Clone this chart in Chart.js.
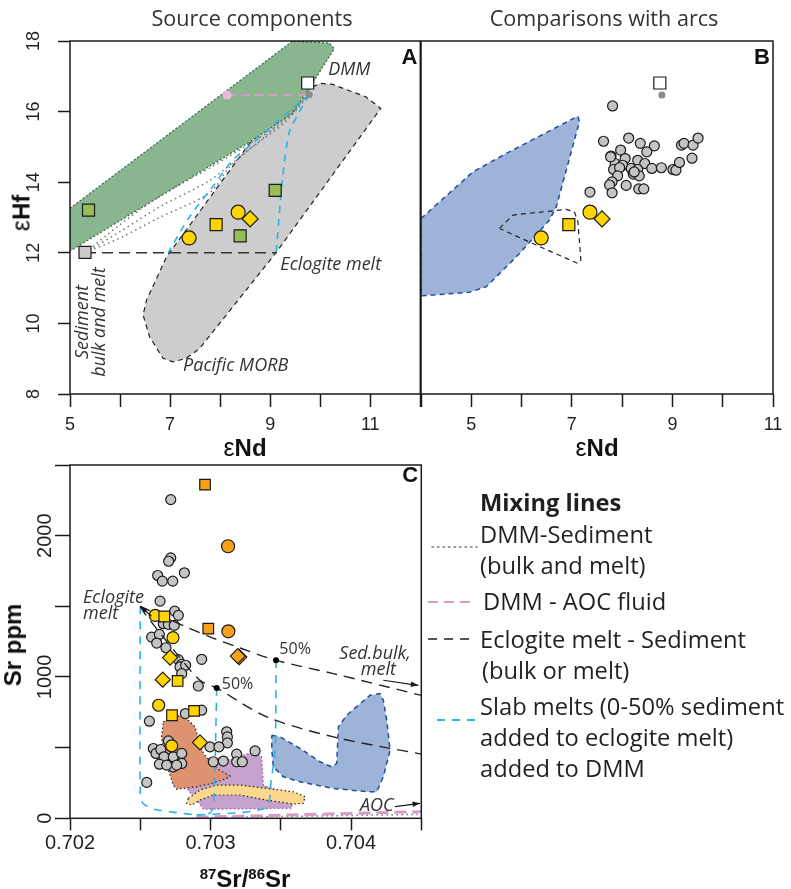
<!DOCTYPE html>
<html>
<head>
<meta charset="utf-8">
<script src="https://cdn.jsdelivr.net/npm/chart.js@4.4.1/dist/chart.umd.min.js"></script>
<style>
  html, body { margin: 0; padding: 0; background: #fff; }
  #page { position: relative; width: 791px; height: 889px; overflow: hidden; color: #231f20; }
  canvas { position: absolute; }
  .t { position: absolute; white-space: nowrap; line-height: 1; transform: translate(-50%, -50%); }
  .rot { transform: translate(-50%, -50%) rotate(-90deg); }
  .ttl { font-family: "Open Sans", sans-serif; font-size: 21.6px; color: #333; }
  .ax { font-family: "Liberation Sans", Arial, sans-serif; font-weight: bold; font-size: 24px; color: #111; }
  .ax .e { font-weight: normal; font-size: 25px; }
  .ax sup { font-size: 15px; vertical-align: 0; position: relative; top: -8px; }
  .lg { position: absolute; left: 480px; font-family: "Open Sans", sans-serif; font-size: 23.7px; line-height: 1; white-space: nowrap; transform: translateY(-50%); color: #231f20; }
</style>
</head>
<body>
<div id="page">
  <canvas id="chartA" width="430" height="460" style="left:0;top:0"></canvas>
  <canvas id="chartB" width="381" height="460" style="left:410px;top:0"></canvas>
  <canvas id="chartC" width="430" height="434" style="left:0;top:455px"></canvas>

  <div class="t ttl" style="left:252px;top:18px">Source components</div>
  <div class="t ttl" style="left:604px;top:18px">Comparisons with arcs</div>

  <div class="t ax rot" style="left:21px;top:213px"><span class="e">ε</span>Hf</div>
  <div class="t ax" style="left:245px;top:447px"><span class="e">ε</span>Nd</div>
  <div class="t ax" style="left:597px;top:447px"><span class="e">ε</span>Nd</div>
  <div class="t ax rot" style="left:13px;top:645px">Sr ppm</div>
  <div class="t ax" style="left:245px;top:879px"><sup>87</sup>Sr/<sup>86</sup>Sr</div>

  <svg style="position:absolute;left:0;top:0" width="791" height="889">
    <line x1="432" y1="547" x2="477" y2="547" stroke="#777" stroke-width="1.5" stroke-dasharray="1.5 4" stroke-linecap="round"/>
    <line x1="428" y1="602" x2="476" y2="602" stroke="#d79bc7" stroke-width="2" stroke-dasharray="10 6"/>
    <line x1="428" y1="639" x2="476" y2="639" stroke="#222" stroke-width="1.5" stroke-dasharray="9 7"/>
    <line x1="437" y1="720" x2="476" y2="720" stroke="#29b4e6" stroke-width="2" stroke-dasharray="8 7"/>
  </svg>
  <div class="lg" style="top:503px;font-weight:bold">Mixing lines</div>
  <div class="lg" style="top:535px">DMM-Sediment</div>
  <div class="lg" style="top:566px">(bulk and melt)</div>
  <div class="lg" style="top:602px;left:483px">DMM - AOC fluid</div>
  <div class="lg" style="top:640px">Eclogite melt - Sediment</div>
  <div class="lg" style="top:671px;left:482px">(bulk or melt)</div>
  <div class="lg" style="top:707px">Slab melts (0-50% sediment</div>
  <div class="lg" style="top:738px">added to eclogite melt)</div>
  <div class="lg" style="top:769px">added to DMM</div>
</div>

<script>
// =======================
// DATA  (eNd, eHf) / (87Sr/86Sr, Sr ppm)
// =======================

// --- panel A: source components ---
const aNdTicks = [5, 7, 9, 11];
const aHfTicks = [8, 10, 12, 14, 16, 18];
const aGreenField = [[5, 13.26], [9.45, 18], [10.18, 17.94], [10.28, 17.78], [9.8, 16.7], [9.45, 15.95], [8.6, 15.15], [5, 12.05]];
const aMorbField = [[9.85, 16.7], [10.0, 16.8], [10.25, 16.77], [10.91, 16.42], [11.21, 16.09], [9.12, 12.01], [7.59, 9.29],
  [7.32, 9.01], [7.06, 8.91], [6.86, 9.01], [6.59, 9.62], [6.46, 10.24], [6.53, 10.66], [6.93, 11.89], [8.59, 15.1], [9.45, 16.32]];
const aSedMix1 = [[5.3, 12.0], [6.0, 12.8], [6.79, 13.6], [7.79, 14.4], [8.6, 15.1], [9.3, 15.75], [9.78, 16.48]];
const aSedMix2 = [[5.3, 12.0], [6.0, 12.6], [6.79, 13.3], [7.79, 14.05], [8.6, 14.95], [9.3, 15.7], [9.78, 16.48]];
const aSedMix3 = [[5.3, 12.0], [6.0, 12.42], [6.79, 13.0], [7.79, 13.7], [8.2, 14.45], [8.9, 15.3], [9.78, 16.48]];
const aAocMix = [[8.14, 16.47], [9.78, 16.47]];
const aEclSedMix = [[5.3, 12.0], [9.13, 12.0]];
const aSlabLeft = [[9.78, 16.48], [9.32, 15.94], [8.65, 15.1], [8.25, 14.62], [7.85, 13.87], [7.39, 13.02], [6.96, 12.0]];
const aSlabRight = [[9.78, 16.48], [9.55, 15.9], [9.38, 15.4], [9.25, 14.15], [9.12, 12.0]];
const aSediment = [[5.3, 12.01]];
const aGreenSquares = [[5.37, 13.21], [9.1, 13.77], [8.4, 12.48]];
const aYellowCircles = [[7.38, 12.42], [8.36, 13.15]];
const aYellowSquares = [[7.92, 12.8]];
const aYellowDiamonds = [[8.6, 12.96]];
const aDmm = [[9.75, 16.81]];
const aDmmDot = [[9.78, 16.48]];
const aAocDot = [[8.14, 16.47]];

// --- panel B: comparisons with arcs ---
const bNdTicks = [5, 7, 9, 11];
const bBlueField = [[4.0, 12.97], [5.03, 14.29], [5.69, 14.81], [7.12, 15.87], [7.15, 15.71], [6.69, 13.3], [6.55, 12.92],
  [5.96, 11.98], [5.3, 11.04], [4.96, 10.88], [4.0, 10.78]];
const bLoop = [[5.56, 12.69], [5.83, 13.07], [6.89, 13.23], [7.05, 13.16], [7.12, 12.88], [7.18, 11.79], [7.12, 11.7], [6.29, 12.22]];
const bArcs = [[7.81, 16.16], [7.63, 15.16], [8.13, 15.25], [8.36, 15.1], [8.64, 15.03], [8.49, 14.86], [7.97, 14.91], [7.78, 14.74],
  [8.06, 14.67], [8.31, 14.62], [8.45, 14.53], [7.86, 14.53], [8.01, 14.48], [7.83, 14.36], [7.95, 14.41], [8.18, 14.39],
  [8.31, 14.36], [8.59, 14.39], [8.78, 14.41], [9.01, 14.36], [9.07, 14.34], [9.14, 14.56], [9.39, 14.68], [9.18, 15.05],
  [9.23, 15.1], [9.41, 15.05], [9.51, 15.25], [7.91, 14.18], [8.22, 14.23], [8.34, 14.18], [7.8, 14.01], [7.75, 13.92],
  [8.08, 13.91], [8.33, 13.81], [8.43, 13.81], [7.8, 13.7], [7.36, 13.72], [7.77, 14.72], [8.24, 14.29]];
const bYellowCircles = [[6.39, 12.42], [7.36, 13.15]];
const bYellowSquares = [[6.94, 12.8]];
const bYellowDiamonds = [[7.6, 12.96]];
const bDmm = [[8.75, 16.81]];
const bDmmDot = [[8.79, 16.47]];

// --- panel C: Sr isotopes vs Sr ---
const cIsoTicks = [0.702, 0.703, 0.704];
const cSrTicks = [0, 1000, 2000];
const cBlueField = [[0.703436, 588], [0.703495, 576], [0.703637, 494], [0.703779, 400], [0.703863, 364], [0.703898, 388],
  [0.70391, 647], [0.703969, 729], [0.704135, 871], [0.704206, 883], [0.70423, 835], [0.704254, 694], [0.704278, 482],
  [0.70423, 294], [0.704183, 188], [0.704112, 188], [0.703874, 212], [0.703637, 258], [0.703518, 294], [0.703447, 364], [0.703436, 482]];
const cBrownField = [[0.702664, 682], [0.702724, 718], [0.702806, 729], [0.70289, 647], [0.702913, 565], [0.702949, 459],
  [0.703044, 353], [0.703139, 299], [0.703115, 282], [0.703009, 247], [0.702902, 223], [0.702759, 205], [0.702735, 235],
  [0.7027, 341], [0.702664, 459], [0.702652, 576]];
const cPurpleField = [[0.702811, 282], [0.702925, 353], [0.703044, 388], [0.703162, 424], [0.703305, 470], [0.703364, 435],
  [0.703376, 235], [0.703471, 200], [0.703589, 141], [0.703578, 71], [0.702949, 64], [0.702902, 129], [0.70283, 212]];
const cYellowBand = [[0.702842, 141], [0.702925, 200], [0.703044, 235], [0.70321, 235], [0.7034, 212], [0.703589, 188],
  [0.703673, 153], [0.70366, 106], [0.703589, 101], [0.7034, 129], [0.70321, 165], [0.70302, 165], [0.702925, 129],
  [0.702866, 94], [0.70283, 106]];
const cEclSedUpper = [[0.7025, 1500], [0.70283, 1353], [0.703, 1282], [0.70321, 1205], [0.703466, 1118], [0.703874, 1024], [0.7045, 870]];
const cEclSedLower = [[0.7025, 1500], [0.702534, 1447], [0.702759, 1165], [0.702925, 977], [0.703044, 922], [0.7034, 718], [0.703874, 576], [0.7045, 454]];
const cSlab1 = [[0.7025, 1500], [0.7025, 180], [0.70252, 106], [0.7026, 64], [0.70276, 40], [0.7029, 23]];
const cSlab2 = [[0.703044, 922], [0.70303, 300], [0.70302, 100], [0.703, 40], [0.7029, 23]];
const cSlab3 = [[0.703466, 1118], [0.70346, 500], [0.70343, 250], [0.70341, 90], [0.70335, 60], [0.70321, 40], [0.7029, 23]];
const cAocMix = [[0.7029, 7], [0.7045, 47]];
const cSedMixBase = [[0.7029, 3], [0.7045, 28]];
const cHalfDots = [[0.703044, 922], [0.703466, 1118]];
const cArcs = [[0.702717, 2255], [0.702717, 1843], [0.702702, 1819], [0.702814, 1737], [0.702624, 1718], [0.702657, 1678],
  [0.702731, 1678], [0.702641, 1537], [0.702745, 1466], [0.702771, 1436], [0.702669, 1424], [0.702664, 1377], [0.7027, 1372],
  [0.702742, 1365], [0.702581, 1282], [0.702636, 1301], [0.702617, 1240], [0.702683, 1207], [0.702771, 1123], [0.702795, 1090],
  [0.702783, 1071], [0.702823, 1083], [0.702795, 1024], [0.702937, 1125], [0.702913, 936], [0.702821, 741], [0.702937, 765],
  [0.702565, 687], [0.703115, 612], [0.70312, 576], [0.70312, 534], [0.702996, 506], [0.70306, 506], [0.7027, 548],
  [0.702593, 494], [0.702612, 459], [0.702646, 487], [0.702669, 435], [0.702735, 435], [0.702795, 459], [0.702795, 388],
  [0.702636, 383], [0.702735, 364], [0.702688, 376], [0.70302, 400], [0.703091, 405], [0.703186, 454], [0.703186, 400],
  [0.703226, 400], [0.703317, 477], [0.702546, 254], [0.702759, 376]];
const cYellowCircles = [[0.702607, 1436], [0.702733, 1278], [0.702631, 800], [0.702724, 513]];
const cYellowSquares = [[0.702671, 1428], [0.702766, 972], [0.702726, 729], [0.702883, 760]];
const cYellowDiamonds = [[0.702712, 1137], [0.70266, 981], [0.702925, 537]];
const cOrangeCircles = [[0.703125, 1925], [0.703127, 1323]];
const cOrangeSquares = [[0.702961, 2361], [0.702984, 1342]];
const cOrangeDiamonds = [[0.703205, 1141], [0.703194, 1148]];

// =======================
// COLOURS
// =======================
const YELLOW = '#ffd400', ORANGE = '#f7a01c', GREY = '#c4c4c4', INK = '#1a1a1a';
const CYAN = '#29b4e6', PINK = '#d79bc7';

// =======================
// HELPERS
// =======================
const pts = arr => arr.map(([x, y]) => ({ x, y }));

function poly(arr, fillC, lineC, dash, w) {
  return { data: pts(arr.concat([arr[0]])), showLine: true, fill: fillC ? 'shape' : false,
    backgroundColor: fillC || 'transparent', borderColor: lineC, borderDash: dash, borderWidth: w,
    pointRadius: 0, tension: 0 };
}
function line(arr, color, dash, w, tension) {
  return { data: pts(arr), showLine: true, fill: false, borderColor: color, borderDash: dash,
    borderWidth: w, pointRadius: 0, tension: tension || 0 };
}
function marks(arr, style, r, fillC, border, bw) {
  return { data: pts(arr), showLine: false, pointStyle: style, pointRadius: r, backgroundColor: fillC,
    borderColor: border === undefined ? INK : border, borderWidth: bw === undefined ? 1.2 : bw };
}
// bottom -> top
function stack(list) {
  return list.map((d, i) => Object.assign(d, { order: list.length - i }));
}

function xAxis(min, max, step, shown, fmt, o) {
  return {
    type: 'linear', min, max,
    ticks: { stepSize: step, autoSkip: false, maxRotation: 0, minRotation: 0, padding: o.pad,
      color: '#231f20', font: { size: o.size },
      callback: v => shown.some(s => Math.abs(s - v) < step / 10) ? fmt(v) : '' },
    grid: { drawOnChartArea: false, tickLength: o.tick, tickWidth: 1.5, tickColor: INK },
    border: { display: false },
    afterFit: s => { s.height = o.h; }
  };
}
function yAxis(min, max, step, shown, o) {
  return {
    type: 'linear', min, max,
    ticks: { stepSize: step, autoSkip: false, minRotation: 90, maxRotation: 90, crossAlign: 'center',
      padding: o.pad, color: '#231f20', font: { size: o.size },
      callback: v => shown.some(s => Math.abs(s - v) < step / 10) ? String(v) : '' },
    grid: { drawOnChartArea: false, tickLength: o.tick, tickWidth: 1.5, tickColor: INK },
    border: { display: false },
    afterFit: s => { s.width = o.w; }
  };
}

// frame around the plot area
const framePlugin = {
  id: 'frame',
  afterDraw(chart) {
    const { ctx, chartArea: a } = chart;
    ctx.save();
    ctx.strokeStyle = INK;
    ctx.lineWidth = 1.5;
    ctx.strokeRect(a.left, a.top, a.right - a.left, a.bottom - a.top);
    ctx.restore();
  }
};

// text notes and arrows placed in data coordinates
const notesPlugin = {
  id: 'notes',
  afterDatasetsDraw(chart, args, opts) {
    const { ctx, scales: { x, y } } = chart;
    (opts.arrows || []).forEach(a => {
      const x0 = x.getPixelForValue(a.from[0]), y0 = y.getPixelForValue(a.from[1]);
      const x1 = x.getPixelForValue(a.to[0]), y1 = y.getPixelForValue(a.to[1]);
      const ang = Math.atan2(y1 - y0, x1 - x0);
      ctx.save();
      ctx.strokeStyle = INK; ctx.fillStyle = INK; ctx.lineWidth = 1.2;
      ctx.beginPath(); ctx.moveTo(x0, y0); ctx.lineTo(x1, y1); ctx.stroke();
      ctx.beginPath();
      ctx.moveTo(x1, y1);
      ctx.lineTo(x1 - 8 * Math.cos(ang - 0.35), y1 - 8 * Math.sin(ang - 0.35));
      ctx.lineTo(x1 - 8 * Math.cos(ang + 0.35), y1 - 8 * Math.sin(ang + 0.35));
      ctx.closePath(); ctx.fill();
      ctx.restore();
    });
    (opts.items || []).forEach(n => {
      ctx.save();
      ctx.font = n.font;
      ctx.fillStyle = n.color || '#333';
      ctx.textAlign = n.align || 'center';
      ctx.textBaseline = 'middle';
      ctx.translate(x.getPixelForValue(n.x), y.getPixelForValue(n.y));
      if (n.rot) ctx.rotate(n.rot * Math.PI / 180);
      ctx.fillText(n.text, 0, 0);
      ctx.restore();
    });
  }
};

Chart.defaults.font.family = "'Liberation Sans', Arial, sans-serif";
Chart.defaults.animation = false;
Chart.defaults.events = [];

const ITALIC = 'italic 18px "Open Sans", sans-serif';
const LETTER = 'bold 22px "Liberation Sans", Arial, sans-serif';
const noPlugins = { legend: { display: false }, tooltip: { enabled: false } };

// =======================
// PANEL A
// =======================
new Chart(document.getElementById('chartA'), {
  type: 'scatter',
  data: {
    datasets: stack([
      poly(aMorbField, '#cdcdcf', '#222', [5, 4], 1.2),
      poly(aGreenField, '#89b68e', '#2d6a3c', [2, 2], 1.2),
      line(aSedMix1, '#777', [1.5, 3.5], 1.5, 0.3),
      line(aSedMix2, '#777', [1.5, 3.5], 1.5, 0.3),
      line(aSedMix3, '#777', [1.5, 3.5], 1.5, 0.3),
      line(aEclSedMix, '#333', [11, 6], 1.5),
      line(aSlabLeft, CYAN, [7, 6], 1.6, 0.3),
      line(aSlabRight, CYAN, [7, 6], 1.6, 0.3),
      line(aAocMix, PINK, [9, 5], 2),
      marks(aDmmDot, 'circle', 3.5, '#8a8a8a', '#8a8a8a', 0),
      marks(aAocDot, 'circle', 4.5, '#eab9d9', '#eab9d9', 0),
      marks(aSediment, 'rect', 8.5, '#cbcbcb'),
      marks(aGreenSquares, 'rect', 8.5, '#98bd55'),
      marks(aDmm, 'rect', 8.5, '#ffffff'),
      marks(aYellowCircles, 'circle', 7, YELLOW),
      marks(aYellowSquares, 'rect', 8.5, YELLOW),
      marks(aYellowDiamonds, 'rectRot', 8, YELLOW)
    ])
  },
  options: {
    responsive: false,
    layout: { padding: { left: 0, top: 41, right: 9, bottom: 6 } },
    scales: {
      x: xAxis(5, 12, 1, aNdTicks, v => String(v), { pad: 7, size: 18, tick: 13, h: 60 }),
      y: yAxis(8, 18, 2, aHfTicks, { pad: 13.5, size: 18, tick: 12, w: 70 })
    },
    plugins: Object.assign({}, noPlugins, {
      notes: {
        items: [
          { text: 'DMM', x: 10.58, y: 17.17, font: ITALIC },
          { text: 'Eclogite melt', x: 10.21, y: 11.65, font: ITALIC },
          { text: 'Pacific MORB', x: 8.31, y: 8.79, font: ITALIC },
          { text: 'Sediment', x: 5.26, y: 10.04, font: ITALIC, rot: -90 },
          { text: 'bulk and melt', x: 5.6, y: 10.04, font: ITALIC, rot: -90 },
          { text: 'A', x: 11.94, y: 17.52, font: LETTER, align: 'right', color: '#111' }
        ]
      }
    })
  },
  plugins: [framePlugin, notesPlugin]
});

// =======================
// PANEL B
// =======================
new Chart(document.getElementById('chartB'), {
  type: 'scatter',
  data: {
    datasets: stack([
      poly(bBlueField, '#9db3d7', '#1f4f9e', [5, 4], 1.5),
      poly(bLoop, null, '#222', [5, 4], 1.2),
      marks(bArcs, 'circle', 5, GREY),
      marks(bDmmDot, 'circle', 3.5, '#8a8a8a', '#8a8a8a', 0),
      marks(bDmm, 'rect', 8.5, '#ffffff'),
      marks(bYellowCircles, 'circle', 7, YELLOW),
      marks(bYellowSquares, 'rect', 8.5, YELLOW),
      marks(bYellowDiamonds, 'rectRot', 8, YELLOW)
    ])
  },
  options: {
    responsive: false,
    layout: { padding: { left: 11, top: 41, right: 18, bottom: 6 } },
    scales: {
      x: xAxis(4, 11, 1, bNdTicks, v => String(v), { pad: 7, size: 18, tick: 13, h: 60 }),
      y: { type: 'linear', min: 8, max: 18, display: false }
    },
    plugins: Object.assign({}, noPlugins, {
      notes: { items: [{ text: 'B', x: 10.94, y: 17.52, font: LETTER, align: 'right', color: '#111' }] }
    })
  },
  plugins: [framePlugin, notesPlugin]
});

// =======================
// PANEL C
// =======================
new Chart(document.getElementById('chartC'), {
  type: 'scatter',
  data: {
    datasets: stack([
      poly(cBlueField, '#9db3d7', '#1f4f9e', [5, 4], 1.5),
      poly(cPurpleField, '#c6a3cf', '#9b4fa6', [1.5, 2.5], 1.2),
      poly(cBrownField, '#dd9270', '#222', [1.5, 2.5], 1.2),
      poly(cYellowBand, '#fbd88d', '#222', [1.5, 2.5], 1.2),
      line(cSedMixBase, '#777', [1.5, 3.5], 1.5),
      line(cAocMix, PINK, [12, 6], 3),
      line(cSlab1, CYAN, [8, 7], 1.6, 0.3),
      line(cSlab2, CYAN, [8, 7], 1.6, 0.3),
      line(cSlab3, CYAN, [8, 7], 1.6, 0.3),
      marks(cArcs, 'circle', 5, GREY),
      line(cEclSedUpper, '#222', [11, 7], 1.4, 0.3),
      line(cEclSedLower, '#222', [11, 7], 1.4, 0.3),
      marks(cHalfDots, 'circle', 3, '#000', '#000', 0),
      marks(cYellowCircles, 'circle', 6, YELLOW),
      marks(cYellowSquares, 'rect', 7.5, YELLOW),
      marks(cYellowDiamonds, 'rectRot', 7.5, YELLOW),
      marks(cOrangeCircles, 'circle', 6.5, ORANGE),
      marks(cOrangeSquares, 'rect', 7.5, ORANGE),
      marks(cOrangeDiamonds, 'rectRot', 7.5, ORANGE)
    ])
  },
  options: {
    responsive: false,
    layout: { padding: { left: 0, top: 10, right: 8.3, bottom: 0 } },
    scales: {
      x: xAxis(0.702, 0.7045, 0.0005, cIsoTicks, v => v.toFixed(3), { pad: 1, size: 20, tick: 12, h: 70.7 }),
      y: yAxis(0, 2500, 500, cSrTicks, { pad: -12.25, size: 20, tick: 15, w: 70 })
    },
    plugins: Object.assign({}, noPlugins, {
      notes: {
        arrows: [
          { from: [0.70423, 977], to: [0.704479, 941] },
          { from: [0.704313, 82], to: [0.704491, 106] },
          { from: [0.70258, 1430], to: [0.7025, 1500] }
        ],
        items: [
          { text: 'Eclogite', x: 0.702093, y: 1563, font: ITALIC, align: 'left' },
          { text: 'melt', x: 0.702093, y: 1450, font: ITALIC, align: 'left' },
          { text: '50%', x: 0.70349, y: 1193, font: '16px "Open Sans", sans-serif', align: 'left' },
          { text: '50%', x: 0.70308, y: 948, font: '16px "Open Sans", sans-serif', align: 'left' },
          { text: 'Sed.bulk,', x: 0.704171, y: 1165, font: ITALIC },
          { text: 'melt', x: 0.704194, y: 1047, font: ITALIC },
          { text: 'AOC', x: 0.704183, y: 89, font: ITALIC },
          { text: 'C', x: 0.704477, y: 2424, font: LETTER, align: 'right', color: '#111' }
        ]
      }
    })
  },
  plugins: [framePlugin, notesPlugin]
});
</script>
</body>
</html>
